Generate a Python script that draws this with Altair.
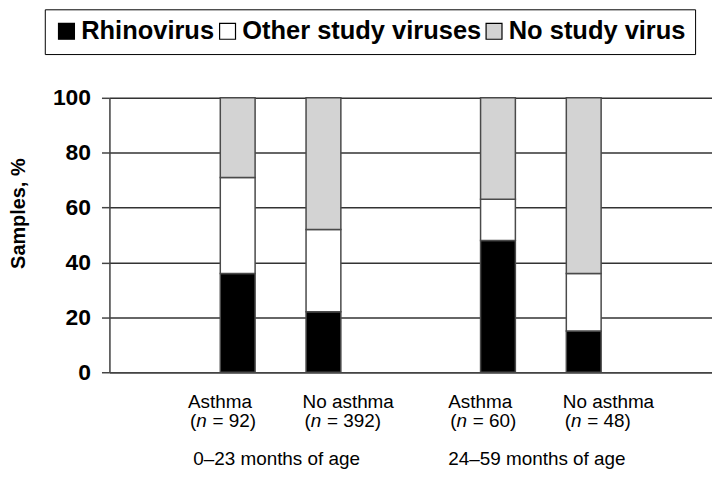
import altair as alt
import pandas as pd

# ---- data ----
age_groups = ["0–23 months of age", "24–59 months of age"]
statuses = ["Asthma", "No asthma"]
bar_age = ["0–23 months of age", "0–23 months of age", "24–59 months of age", "24–59 months of age"]
bar_status = ["Asthma", "No asthma", "Asthma", "No asthma"]
bar_n = [92, 392, 60, 48]
rhinovirus = [36, 22, 48, 15]
other_viruses = [35, 30, 15, 21]
no_virus = [29, 48, 37, 64]
series = ["Rhinovirus", "Other study viruses", "No study virus"]
series_colors = ["#000000", "#ffffff", "#d3d3d3"]
y_ticks = [0, 20, 40, 60, 80, 100]

FONT = "Liberation Sans"
LBL = 19  # category label font size

rows = []
for i in range(len(bar_age)):
    for k, (name, vals) in enumerate(zip(series, [rhinovirus, other_viruses, no_virus])):
        rows.append({"age": bar_age[i], "status": bar_status[i], "series": name,
                     "value": vals[i], "order": k})
bars_df = pd.DataFrame(rows)

labels_df = pd.DataFrame({"age": bar_age, "status": bar_status, "n": bar_n})
labels_df["rest"] = ["= " + str(n) + ")" for n in bar_n]
labels_df["open"] = "("
labels_df["nn"] = "n"

x_enc = alt.X("age:N", sort=age_groups,
              scale=alt.Scale(domain=age_groups, paddingInner=0.2, paddingOuter=0.2576),
              axis=alt.Axis(title=None, labelFontSize=LBL, labelFont=FONT, labelColor="#000",
                            labelPadding=93, labelBaseline="alphabetic", ticks=False, tickSize=0,
                            labelOffset=-4, labelAngle=0, labelLimit=400,
                            domainColor="#444", domainWidth=1.5, grid=False))
xo_enc = alt.XOffset("status:N", sort=statuses,
                     scale=alt.Scale(domain=statuses, paddingInner=0.594, paddingOuter=0.511))

bars = alt.Chart(bars_df).mark_bar(stroke="#4a4a4a", strokeWidth=1.5).encode(
    x=x_enc,
    xOffset=xo_enc,
    y=alt.Y("value:Q", stack="zero",
            scale=alt.Scale(domain=[0, 100], nice=False),
            axis=alt.Axis(values=y_ticks, grid=True, gridColor="#333", gridWidth=1.5,
                          tickSize=8, tickColor="#444", tickWidth=1.5,
                          domainColor="#444", domainWidth=1.5,
                          labelFontSize=23, labelFontWeight="bold", labelFont=FONT,
                          labelColor="#000", labelPadding=11,
                          title="Samples, %", titleFontSize=20, titleFontWeight="bold",
                          titleFont=FONT, titleColor="#000", titleAngle=270,
                          titleBaseline="alphabetic", titleAlign="center",
                          titleX=-85, titleY=116)),
    color=alt.Color("series:N", sort=series,
                    scale=alt.Scale(domain=series, range=series_colors),
                    legend=alt.Legend(title=None, orient="none", legendX=-65, legendY=-89,
                                      direction="horizontal", fillColor="white",
                                      strokeColor="#000", padding=9,
                                      labelFontSize=25.6, labelFontWeight="bold", labelFont=FONT,
                                      labelColor="#000", labelLimit=600,
                                      symbolType="square", symbolSize=256,
                                      symbolStrokeColor="#000", symbolStrokeWidth=1.2,
                                      symbolOpacity=1, labelOffset=2, columnPadding=0)),
    order=alt.Order("order:Q"),
)

base_txt = alt.Chart(labels_df)
common = dict(x=alt.X("age:N", sort=age_groups),
              xOffset=alt.XOffset("status:N", sort=statuses), y=alt.datum(0))


def label_layers(status, left):
    src = base_txt.transform_filter(alt.datum.status == status)
    style = dict(baseline="alphabetic", fontSize=LBL, font=FONT, color="#000", align="left")
    line1 = src.mark_text(dy=36, dx=left, **style).encode(text="status:N", **common)
    open_p = src.mark_text(dy=55, dx=left + 2, **style).encode(text="open:N", **common)
    n_it = src.mark_text(dy=55, dx=left + 2 + 0.333 * LBL, fontStyle="italic", **style).encode(
        text="nn:N", **common)
    rest = src.mark_text(dy=55, dx=left + 2 + 1.19 * LBL, **style).encode(text="rest:N", **common)
    return [line1, open_p, n_it, rest]


layers = [bars] + label_layers("Asthma", -50) + label_layers("No asthma", -21)

chart = alt.layer(*layers).properties(
    width=606, height=276,
    autosize=alt.AutoSizeParams(type="none"),
    padding={"left": 102, "top": 89, "right": 0, "bottom": 97},
).configure_view(stroke="#444", strokeWidth=1.5).configure(font=FONT)

chart.save("out.html", embed_options={"renderer": "svg", "actions": False})
